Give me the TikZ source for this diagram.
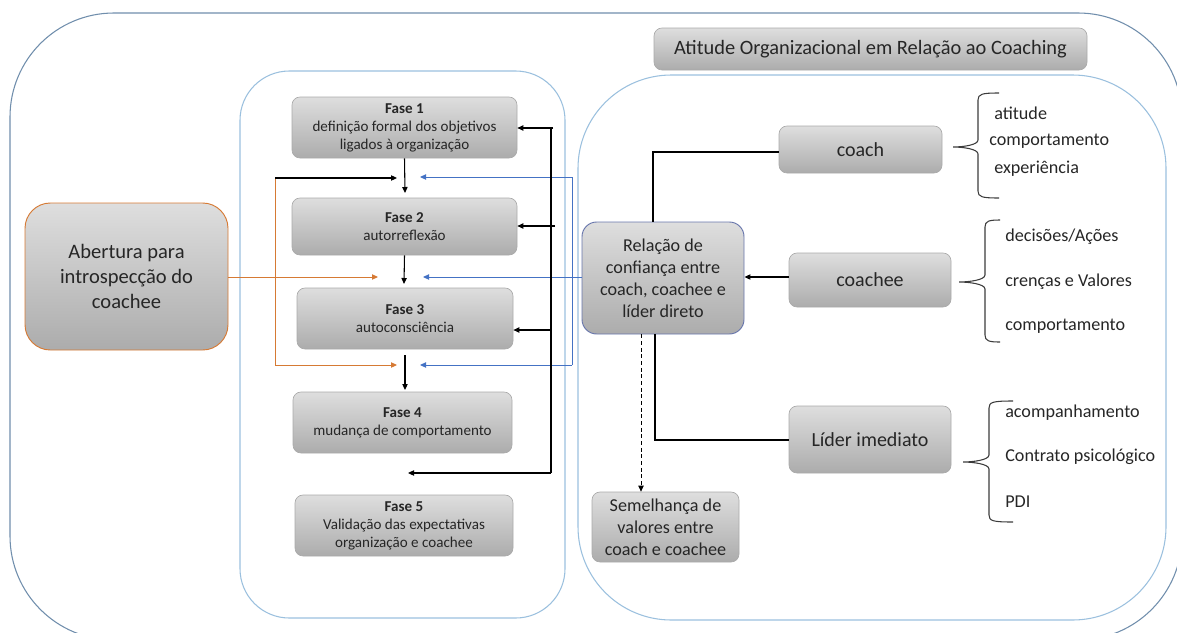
\documentclass[tikz,border=0pt]{standalone}
\usepackage{fontspec}
\setmainfont{Carlito}
\usetikzlibrary{arrows.meta}

\definecolor{frameout}{RGB}{112,142,172}
\definecolor{framein}{RGB}{155,192,222}
\definecolor{linkblue}{RGB}{68,114,196}
\definecolor{linkorange}{RGB}{214,122,52}
\definecolor{boxline}{RGB}{170,170,170}
\definecolor{boxtop}{RGB}{222,222,222}
\definecolor{boxbottom}{RGB}{172,172,172}
\definecolor{txt}{RGB}{38,38,38}
\definecolor{relline}{RGB}{104,118,172}
\definecolor{bracecol}{RGB}{60,60,60}

% left curly brace: vertical x, top y, bottom y, tip x, tip y, hook end x
\newcommand\sidebrace[6]{%
  \draw[bracestyle] (#6,#2) .. controls ({#1+4},#2) and (#1,{#2+1}) .. (#1,{#2+7})
    -- (#1,{#5-7}) .. controls (#1,{#5-2}) and ({#4+10},#5) .. (#4,#5)
    .. controls ({#4+10},#5) and (#1,{#5+2}) .. (#1,{#5+7})
    -- (#1,{#3-7}) .. controls (#1,{#3-1}) and ({#1+4},#3) .. (#6,#3);
}

\begin{document}
\begin{tikzpicture}[x=0.75pt,y=-0.75pt,
  % span = left, top, right, bottom (in picture units)
  span/.style n args={4}{at={({(#1+#3)/2},{(#2+#4)/2})},
    minimum width={(#3-#1)*0.75pt}, minimum height={(#4-#2)*0.75pt}},
  graybox/.style={draw=boxline, line width=0.5pt, top color=boxtop, bottom color=boxbottom,
    rounded corners=6pt, inner sep=0pt, align=center, text=txt},
  phasebox/.style={graybox, font=\fontsize{11.3}{13.5}\selectfont},
  actorbox/.style={graybox, font=\fontsize{15}{18}\selectfont},
  notebox/.style={graybox, font=\fontsize{13.6}{16.5}\selectfont},
  item/.style={anchor=west, inner sep=0pt, text=txt, font=\fontsize{13.6}{16}\selectfont},
  arr/.style={-{Triangle[length=4.5pt,width=4pt]}, line width=0.8pt, draw=black},
  bluearr/.style={-{Triangle[length=4.5pt,width=4pt]}, line width=0.7pt, draw=linkblue},
  orangearr/.style={-{Triangle[length=4.5pt,width=4pt]}, line width=0.7pt, draw=linkorange},
  plain/.style={line width=0.8pt, draw=black},
  bracestyle/.style={line width=0.8pt, draw=bracecol},
]
\useasboundingbox (0,0) rectangle (1177,632);
\clip (0,0) rectangle (1177,632);

% frames
\draw[frameout, line width=0.8pt, rounded corners=78pt] (10,13) rectangle (1182,640);
\draw[framein, line width=0.8pt, rounded corners=37pt] (240,71) rectangle (565,618);
\draw[framein, line width=0.8pt, rounded corners=70pt] (578,75) rectangle (1166,620);

% title
\node[graybox, font=\fontsize{15.3}{18}\selectfont, span={654}{28}{1087}{70}] (title)
  {Atitude Organizacional em Relação ao Coaching};

% openness box
\node[graybox, draw=linkorange, line width=0.7pt, rounded corners=19pt,
  font=\fontsize{15.4}{18.75}\selectfont, span={25}{203}{228}{350}] (ab)
  {Abertura para\\introspecção do\\coachee};

% phases
\node[phasebox, span={292}{97}{517}{158}] (f1)
  {\textbf{Fase 1}\\definição formal  dos objetivos\\ligados à organização};
\node[phasebox, span={292}{198}{517}{255}] (f2) {\textbf{Fase 2}\\autorreflexão};
\node[phasebox, span={297}{288}{513}{349}] (f3) {\textbf{Fase 3}\\autoconsciência};
\node[phasebox, span={293}{392}{512}{453}] (f4) {\textbf{Fase 4}\\mudança de comportamento};
\node[phasebox, span={295}{495}{513}{556}] (f5)
  {\textbf{Fase 5}\\Validação das expectativas\\organização e coachee};

% relationship side
\node[notebox, draw=relline, line width=0.7pt, rounded corners=11pt, span={582}{222}{744}{334}] (rel)
  {Relação de\\confiança entre\\coach, coachee e\\líder direto};
\node[notebox, span={592}{492}{739}{562}] (sem) {Semelhança de\\valores entre\\coach e coachee};
\node[actorbox, span={779}{126}{942}{173}] (co) {coach};
\node[actorbox, span={789}{253}{951}{307}] (ce) {coachee};
\node[actorbox, span={789}{406}{951}{473}] (li) {Líder imediato};

% phase sequence
\coordinate (t12) at (405,193);
\coordinate (t23) at (404,284);
\coordinate (t34) at (405,390);
\draw[arr] (f1.south) -- (t12);
\draw[arr] (f2.south) -- (t23);
\draw[arr] (405,355) -- (t34);

% openness links
\coordinate (oa) at (275,178);
\coordinate (ob) at (275,365);
\coordinate (oat) at (397,178);
\coordinate (obt) at (397,365);
\coordinate (abt) at (378,277);
\draw[orangearr] (ab.east |- abt) -- (abt);
\draw[line width=0.7pt, linkorange] (oa) -- (ob);
\draw[orangearr] (ob) -- (obt);
\draw[arr] (oa) -- (oat);

% relationship links into the phases
\coordinate (ba) at (572,177);
\coordinate (bb) at (572,365);
\coordinate (bat) at (420,177);
\coordinate (bbt) at (420,365);
\coordinate (brt) at (423,277);
\draw[line width=0.7pt, linkblue] (ba) -- (bb);
\draw[bluearr] (ba) -- (bat);
\draw[bluearr] (bb) -- (bbt);
\draw[bluearr] (rel.west |- brt) -- (brt);

% feedback line
\coordinate (fa) at (551,128);
\coordinate (fb) at (551,473);
\coordinate (fbt) at (408,473);
\draw[plain] (fa) -- (fb);
\draw[arr] (553,128) -- (f1.east |- fa);
\draw[arr] (555,226) -- (f2.east |- 555,226);
\draw[arr] (fa |- 0,330) -- (f3.east |- 0,330);
\draw[arr] (fb) -- (fbt);

% actors to relationship
\coordinate (cok) at (653,152);
\coordinate (lik) at (655,440);
\draw[plain] (co.west |- cok) -- (cok) -- (cok |- rel.north);
\draw[arr] (ce.west |- 0,277) -- (rel.east |- 0,277);
\draw[plain] (li.west |- lik) -- (lik) -- (lik |- rel.south);
\draw[arr, densely dashed, line width=0.6pt] (641,0 |- rel.south) -- (641,0 |- sem.north);

% attribute braces
\sidebrace{978}{93}{198}{953}{147}{999}
\node[item] (c1) at (994,113) {atitude};
\node[item] (c2) at (989,141) {comportamento};
\node[item] (c3) at (994,169) {experiência};

\sidebrace{985}{220}{342}{959}{282}{1000}
\node[item] (e1) at (1005,237) {decisões/Ações};
\node[item] (e2) at (1005,282) {crenças e Valores};
\node[item] (e3) at (1005,326) {comportamento};

\sidebrace{989}{401}{522}{963}{462}{1013}
\node[item] (l1) at (1005,413) {acompanhamento};
\node[item] (l2) at (1005,457) {Contrato psicológico};
\node[item] (l3) at (1005,502) {PDI};
\end{tikzpicture}
\end{document}
